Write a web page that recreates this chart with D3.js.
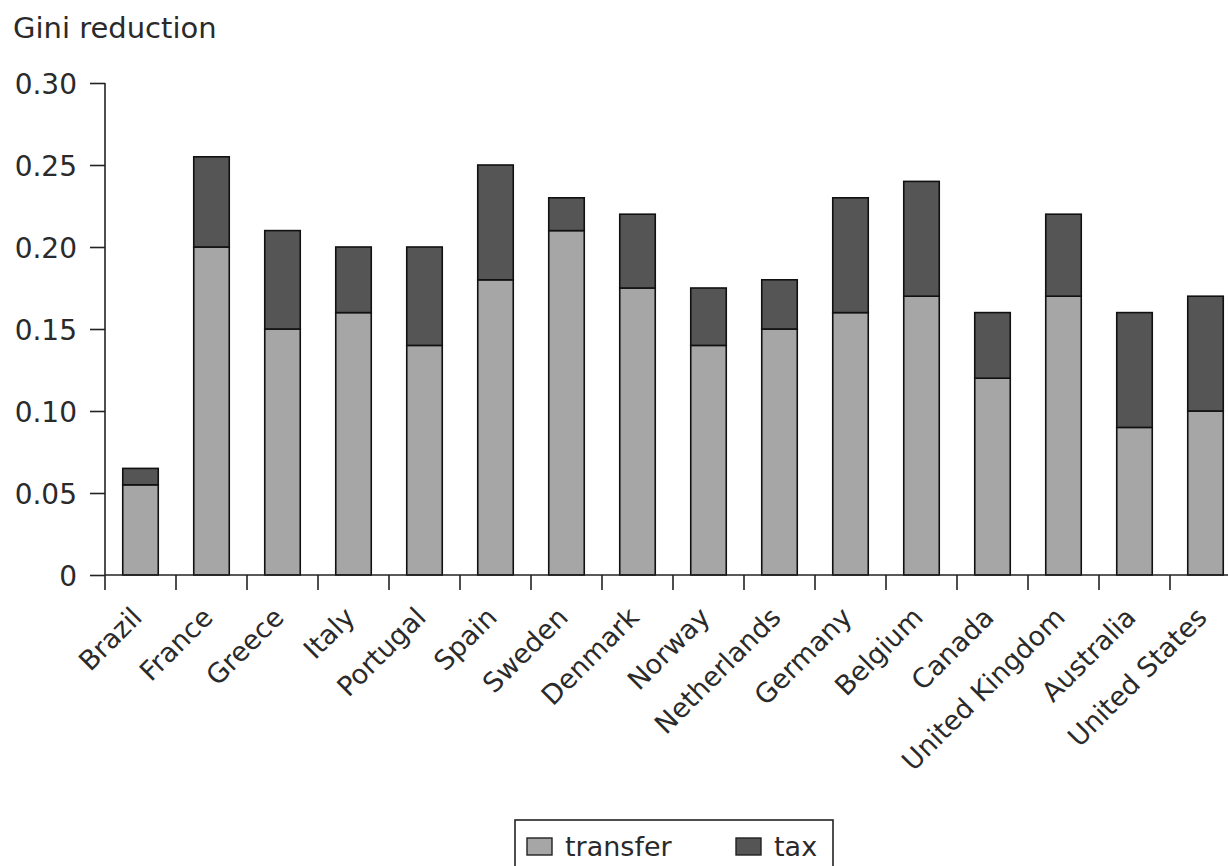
<!DOCTYPE html>
<html><head><meta charset="utf-8">
<script src="https://cdn.jsdelivr.net/npm/d3@7"></script>
<style>body{margin:0;background:#fff}svg{display:block}text{font-family:"DejaVu Sans",sans-serif;fill:#2a2a2a}</style>
</head><body><svg id="c" width="1228" height="866"></svg>
<script>
const countries = ["Brazil","France","Greece","Italy","Portugal","Spain","Sweden","Denmark","Norway","Netherlands","Germany","Belgium","Canada","United Kingdom","Australia","United States"];
const transfer = [0.055,0.20,0.15,0.16,0.14,0.18,0.21,0.175,0.14,0.15,0.16,0.17,0.12,0.17,0.09,0.10];
const tax =      [0.010,0.055,0.06,0.04,0.06,0.07,0.02,0.045,0.035,0.03,0.07,0.07,0.04,0.05,0.07,0.07];
const yTicks = [0,0.05,0.10,0.15,0.20,0.25,0.30];
const yTickLabels = ["0","0.05","0.10","0.15","0.20","0.25","0.30"];
const seriesNames = ["transfer","tax"];
const colors = {transfer:"#a6a6a6", tax:"#555555"};

const svg = d3.select("#c");
const x0 = 105, y0 = 575, yTop = 83;
const x = d3.scaleBand().domain(countries).range([x0, x0 + 71*16]).paddingInner(0.5).paddingOuter(0.25);
const y = d3.scaleLinear().domain([0,0.30]).range([y0, yTop]);

const data = countries.map((c,i)=>({country:c, transfer:transfer[i], tax:tax[i]}));
const stack = d3.stack().keys(seriesNames)(data);

const g = svg.append("g");
stack.forEach(s=>{
  g.selectAll(null).data(s).join("rect")
    .attr("x", d=>x(d.data.country))
    .attr("width", x.bandwidth())
    .attr("y", d=>y(d[1]))
    .attr("height", d=>y(d[0])-y(d[1]))
    .attr("fill", colors[s.key])
    .attr("stroke","#111").attr("stroke-width",1.6);
});

// y axis
const ya = svg.append("g").attr("transform",`translate(${x0},0)`)
  .call(d3.axisLeft(y).tickValues(yTicks).tickFormat((d,i)=>yTickLabels[i]).tickSize(15).tickPadding(13));
ya.select(".domain").attr("d",`M0,${yTop}V${y0+15}`).attr("stroke","#222").attr("stroke-width",1.6);
ya.selectAll(".tick line").attr("stroke","#222").attr("stroke-width",1.6);
ya.selectAll(".tick text").style("font-size","28px").style("font-family","'DejaVu Sans',sans-serif").attr("fill","#2a2a2a").attr("dy","0.36em");

// x axis line
svg.append("line").attr("x1",x0).attr("x2",1228).attr("y1",y0).attr("y2",y0).attr("stroke","#222").attr("stroke-width",1.6);
const step = x.step();
countries.slice(1).forEach(c=>{
  const bx = x(c) + x.bandwidth()/2 - step/2;
  svg.append("line").attr("x1",bx).attr("x2",bx).attr("y1",y0).attr("y2",y0+15).attr("stroke","#222").attr("stroke-width",1.6);
});
// category labels
countries.forEach(c=>{
  const cx = x(c) + x.bandwidth()/2 + 3, cy = y0 + 44;
  svg.append("text").attr("transform",`translate(${cx},${cy}) rotate(-45)`)
    .attr("text-anchor","end").style("font-size","27px").text(c);
});

// y title
svg.append("text").attr("x",13).attr("y",38).style("font-size","29px").text("Gini reduction");

// legend
const lg = svg.append("g");
lg.append("rect").attr("x",515).attr("y",820).attr("width",318).attr("height",60).attr("fill","none").attr("stroke","#222").attr("stroke-width",1.6);
const lx = [527, 736];
seriesNames.forEach((n,i)=>{
  lg.append("rect").attr("x",lx[i]).attr("y",838).attr("width",25).attr("height",17).attr("fill",colors[n]).attr("stroke","#222").attr("stroke-width",1.4);
  lg.append("text").attr("x",lx[i]+38).attr("y",856).style("font-size","27px").text(n);
});
</script></body></html>
